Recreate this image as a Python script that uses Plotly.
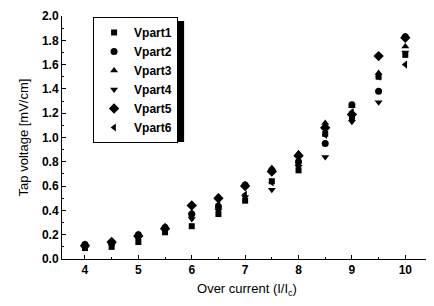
import plotly.graph_objects as go

x = [4, 4.5, 5, 5.5, 6, 6.5, 7, 7.5, 8, 8.5, 9, 9.5, 10]
vpart1 = [0.09, 0.10, 0.14, 0.22, 0.27, 0.37, 0.48, 0.64, 0.73, 1.03, 1.16, 1.50, 1.68]
vpart2 = [0.12, 0.13, 0.20, 0.26, 0.37, 0.43, 0.61, 0.73, 0.80, 0.95, 1.27, 1.38, 1.83]
vpart3 = [0.11, 0.14, 0.19, 0.27, 0.38, 0.51, 0.61, 0.75, 0.87, 1.12, 1.26, 1.53, 1.75]
vpart4 = [0.10, 0.12, 0.17, 0.24, 0.33, 0.40, 0.51, 0.57, 0.76, 0.84, 1.13, 1.29, 1.70]
vpart5 = [0.11, 0.14, 0.19, 0.25, 0.44, 0.50, 0.60, 0.72, 0.85, 1.08, 1.19, 1.67, 1.82]
vpart6 = [0.10, 0.12, 0.17, 0.23, 0.35, 0.45, 0.53, 0.63, 0.78, 1.02, 1.21, 1.50, 1.60]

names = ["Vpart1", "Vpart2", "Vpart3", "Vpart4", "Vpart5", "Vpart6"]
series = [vpart1, vpart2, vpart3, vpart4, vpart5, vpart6]
symbols = ["square", "circle", "triangle-up", "triangle-down", "diamond", "triangle-left"]
sizes = [6, 7, 7, 7, 8, 7]

fig = go.Figure()
for n, s, sym, sz in zip(names, series, symbols, sizes):
    fig.add_trace(go.Scatter(x=x, y=s, mode="markers", name=n,
                             marker=dict(symbol=sym, size=sz, color="black",
                                         line=dict(width=0))))

font = "Liberation Sans, Arial, sans-serif"
fig.update_layout(
    width=426, height=298,
    margin=dict(l=54, r=2, t=8, b=47),
    paper_bgcolor="white", plot_bgcolor="white",
    font=dict(family=font, color="black"),
    showlegend=True,
    legend=dict(x=0.084, y=0.996, xanchor="left", yanchor="top",
                bgcolor="white", bordercolor="black", borderwidth=1,
                font=dict(size=12, family=font, weight="bold"),
                tracegroupgap=0),
    xaxis=dict(range=[3.57, 10.5], tickvals=[4, 5, 6, 7, 8, 9, 10],
               ticks="inside", ticklen=4, tickwidth=1, tickcolor="black",
               showline=True, linecolor="black", linewidth=1,
               showgrid=False, zeroline=False, automargin=False,
               minor=dict(dtick=0.5, ticks="inside", ticklen=2, tickcolor="black", showgrid=False),
               tickfont=dict(size=12, weight="bold"),
               title=dict(text="Over current (I/I<sub>c</sub>)", font=dict(size=13), standoff=7)),
    yaxis=dict(range=[0, 2.0], dtick=0.2, tickformat=".1f",
               ticks="inside", ticklen=4, tickwidth=1, tickcolor="black",
               showline=True, linecolor="black", linewidth=1,
               showgrid=False, zeroline=False, automargin=False,
               minor=dict(dtick=0.1, ticks="inside", ticklen=2, tickcolor="black", showgrid=False),
               tickfont=dict(size=12, weight="bold"),
               title=dict(text="Tap voltage [mV/cm]", font=dict(size=13), standoff=10)),
)
# legend drop shadow
fig.add_shape(type="rect", xref="paper", yref="paper",
              x0=0.095, x1=0.33, y0=0.481, y1=0.979,
              fillcolor="black", line=dict(width=0), layer="above")
fig.write_html("out.html")
